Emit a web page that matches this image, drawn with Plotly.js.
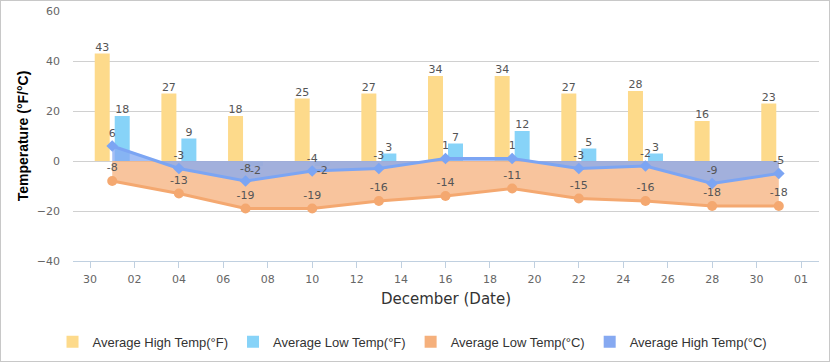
<!DOCTYPE html>
<html>
<head>
<meta charset="utf-8">
<script src="https://cdn.plot.ly/plotly-3.0.1.min.js"></script>
<style>
html,body{margin:0;padding:0;background:#fff;}
#wrap{width:828px;height:360px;border:1px solid #c8c8c8;}
#chart{width:828px;height:360px;}
</style>
</head>
<body>
<div id="wrap"><div id="chart"></div></div>
<script>
// ---- data ----
const dates = ['2023-12-01','2023-12-04','2023-12-07','2023-12-10','2023-12-13','2023-12-16','2023-12-19','2023-12-22','2023-12-25','2023-12-28','2023-12-31'];
const highF = [43, 27, 18, 25, 27, 34, 34, 27, 28, 16, 23];
const lowF  = [18, 9, -2, -2, 3, 7, 12, 5, 3, null, null];
const lowC  = [-8, -13, -19, -19, -16, -14, -11, -15, -16, -18, -18];
const highC = [6, -3, -8, -4, -3, 1, 1, -3, -2, -9, -5];
const seriesNames = ['Average High Temp(°F)', 'Average Low Temp(°F)', 'Average Low Temp(°C)', 'Average High Temp(°C)'];
const xTitle = 'December (Date)';
const yTitle = 'Temperature (°F/°C)';

// ---- styles ----
const C_HIGHF = '#FDDA8B', C_LOWF = '#87D3F8', C_LOWC = '#F5B07C', C_HIGHC = '#86A9F1';
const DAY = 86400000;
const BAR_W = 0.675 * DAY;
const OFF_A = -0.7875 * DAY, OFF_B = 0.1125 * DAY;
const labelFont = {family: 'DejaVu Sans', size: 11, color: '#555'};

function shift(d, days) {
  const t = Date.parse(d + 'T00:00:00Z') + days * DAY;
  return new Date(t).toISOString().slice(0, 23).replace('T', ' ');
}
function labelTrace(vals, dayShift) {
  return {
    type: 'scatter', mode: 'text', hoverinfo: 'skip', showlegend: false,
    x: dates.map(d => shift(d, dayShift)), y: vals,
    text: vals.map(v => v === null ? '' : String(v)),
    textposition: vals.map(v => (v !== null && v < 0) ? 'bottom center' : 'top center'),
    textfont: labelFont, cliponaxis: false
  };
}

const traces = [
  {type: 'bar', name: seriesNames[0], x: dates, y: highF, width: BAR_W, offset: OFF_A,
   marker: {color: C_HIGHF}, legendgroup: 'a'},
  {type: 'bar', name: seriesNames[1], x: dates, y: lowF, width: BAR_W, offset: OFF_B,
   marker: {color: C_LOWF}, legendgroup: 'b'},
  {type: 'scatter', mode: 'lines+markers+text', name: seriesNames[2], x: dates, y: lowC,
   fill: 'tozeroy', fillcolor: 'rgba(245,176,124,0.75)', showlegend: false, legendgroup: 'c',
   line: {color: '#F4A870', width: 3}, marker: {symbol: 'circle', size: 10, color: '#F4A870'},
   text: lowC.map(String), textposition: 'top center', textfont: labelFont, cliponaxis: false},
  {type: 'scatter', mode: 'lines+markers+text', name: seriesNames[3], x: dates, y: highC,
   fill: 'tozeroy', fillcolor: 'rgba(134,169,241,0.75)', showlegend: false, legendgroup: 'd',
   line: {color: '#7CA5F3', width: 3}, marker: {symbol: 'diamond', size: 9, color: '#7CA5F3'},
   text: highC.map(String), textposition: 'top center', textfont: labelFont, cliponaxis: false},
  labelTrace(highF, -0.45),
  labelTrace(lowF, 0.45),
  {type: 'bar', name: seriesNames[2], x: [null], y: [null], marker: {color: C_LOWC}, legendgroup: 'c'},
  {type: 'bar', name: seriesNames[3], x: [null], y: [null], marker: {color: C_HIGHC}, legendgroup: 'd'}
];

const layout = {
  width: 828, height: 360,
  margin: {l: 72, r: 10, t: 10, b: 100},
  paper_bgcolor: '#fff', plot_bgcolor: '#fff',
  showlegend: true,
  legend: {orientation: 'h', xref: 'container', yref: 'container',
           x: 0.497, xanchor: 'center', y: 0.053, yanchor: 'middle',
           font: {family: 'Liberation Sans', size: 13, color: '#333'}, traceorder: 'normal'},
  xaxis: {type: 'date', range: ['2023-11-29 05:38', '2024-01-01 19:26'], automargin: false,
          tick0: '2023-11-30', dtick: 2 * DAY, tickformat: '%d',
          showgrid: false, zeroline: false, showline: true, linecolor: '#C0D0E0', linewidth: 1,
          ticks: 'outside', ticklen: 6, tickcolor: '#C0D0E0', ticklabelstandoff: 2,
          tickfont: {family: 'DejaVu Sans', size: 11, color: '#666'},
          title: {text: xTitle, font: {family: 'DejaVu Sans', size: 15, color: '#333'}, standoff: 8}},
  yaxis: {range: [-40, 60], dtick: 20, showgrid: true, gridcolor: '#d0d0d0', gridwidth: 1, automargin: false,
          zeroline: false, showline: false, ticks: '', ticklabelstandoff: 12,
          tickfont: {family: 'DejaVu Sans', size: 11, color: '#666'},
          title: {text: yTitle, font: {family: 'Liberation Sans', size: 14, color: '#000', weight: 'bold'}, standoff: 4}},
  hovermode: 'closest'
};

Plotly.newPlot('chart', traces, layout, {displayModeBar: false});
</script>
</body>
</html>
